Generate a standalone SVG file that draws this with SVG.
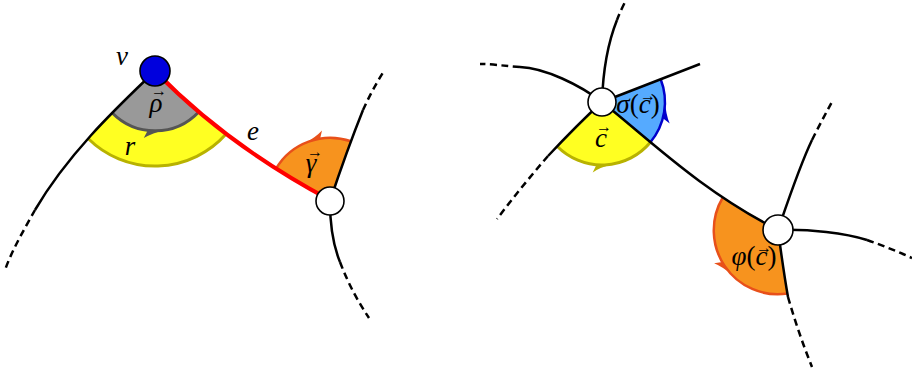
<svg xmlns="http://www.w3.org/2000/svg" width="912" height="373" viewBox="0 0 912 373">
<style>
.ln{fill:none;stroke:#000;stroke-width:2.5}
.dl{fill:none;stroke:#000;stroke-width:2.5;stroke-dasharray:7 4.5}
.red{fill:none;stroke:#ff0000;stroke-width:4}
.node{stroke:#000;stroke-width:1.6}
.lbl{font-style:italic;font-size:27px;fill:#000;text-anchor:middle}
.vec{font-style:normal;font-size:16px}
.up{font-style:normal}
.gray{fill:#999999}
.grayS{fill:none;stroke:#555555;stroke-width:3}
.grayF{fill:#555555}
.yel{fill:#ffff22}
.yelS{fill:none;stroke:#b8b200;stroke-width:3}
.yelF{fill:#b8b200}
.org{fill:#f7931e}
.orgS{fill:none;stroke:#e8501a;stroke-width:2.5}
.orgF{fill:#e8501a}
.blu{fill:#55aaff}
.bluS{fill:none;stroke:#0000cc;stroke-width:2.5}
.bluF{fill:#0000cc}
</style>
<g id="sectors">
  <g id="sector-r">
    <path class="yel" d="M112.1,112.8 L88.1,138.5 A95,95 0 0 0 226.1,134.1 L198.7,112 A60,60 0 0 1 112.1,112.8 Z"/>
    <path class="yelS" d="M88.1,138.5 A95,95 0 0 0 226.1,134.1"/>
  </g>
  <g id="sector-rho">
    <path class="gray" d="M155,71 L198.7,112 A60,60 0 0 1 112.1,112.8 Z"/>
    <path class="grayS" d="M198.7,112 A60,60 0 0 1 112.1,112.8"/>
    <path class="grayF" d="M164.4,130.3 Q152.8,133 143.8,138.1 L147.7,130.6 Z"/>
  </g>
  <g id="sector-gamma">
    <path class="org" d="M330,201 L276,168.6 A63,63 0 0 1 351,141.3 Z"/>
    <path class="orgS" d="M276,168.6 A63,63 0 0 1 351,141.3"/>
    <path class="orgF" d="M303.4,143.9 Q315.4,137.7 322,130.5 L320.1,138.8 Z"/>
  </g>
  <g id="sector-c">
    <path class="yel" d="M602,102 L650.4,142.2 A63,63 0 0 1 557.1,146.2 Z"/>
    <path class="yelS" d="M650.4,142.2 A63,63 0 0 1 557.1,146.2"/>
    <path class="yelF" d="M614,163.8 Q600.9,167 592.7,172.4 L596.5,164.8 Z"/>
  </g>
  <g id="sector-sigma">
    <path class="blu" d="M602,102 L660.7,79.2 A63,63 0 0 1 650.4,142.2 Z"/>
    <path class="bluS" d="M660.7,79.2 A63,63 0 0 1 650.4,142.2"/>
    <path class="bluF" d="M665,100.9 Q665.8,114.4 669.7,123.4 L662.9,118.3 Z"/>
  </g>
  <g id="sector-phi">
    <path class="org" d="M778,230 L787.7,293.5 A64,64 0 0 1 722.8,197.5 Z"/>
    <path class="orgS" d="M787.7,293.5 A64,64 0 0 1 722.8,197.5"/>
    <path class="orgF" d="M733.5,276 Q723.3,266.9 714.1,263.2 L722.6,262 Z"/>
  </g>
</g>
<g id="connectors">
  <path class="ln" d="M155,71 C125,100 70,150 35,210"/>
  <path class="dl" d="M35,210 C25,228 12,250 5,270"/>
  <path class="red" d="M155,71 C188,105 240,152 330,200"/>
  <path class="ln" d="M330,201 Q347,150 363,110"/>
  <path class="dl" d="M363,110 Q372,90 384,71"/>
  <path class="ln" d="M330,201 C330,225 333,245 340,262"/>
  <path class="dl" d="M340,262 C348,283 357,300 369,318"/>
  <path class="ln" d="M602,102 C603,70 607,45 617,20"/>
  <path class="dl" d="M617,20 Q620,12 625,2"/>
  <path class="ln" d="M602,102 C580,85 545,68 520,67"/>
  <path class="dl" d="M520,67 C505,66 492,64 480,64"/>
  <path class="ln" d="M602,102 L700,64"/>
  <path class="ln" d="M602,102 Q578,124 548,156"/>
  <path class="dl" d="M548,156 Q522,186 497,219"/>
  <path class="ln" d="M602,102 C650,140 700,190 778,230"/>
  <path class="ln" d="M778,230 C790,195 800,165 812,140"/>
  <path class="dl" d="M812,140 Q822,120 832,102"/>
  <path class="ln" d="M778,230 C810,229 845,233 867,240"/>
  <path class="dl" d="M867,240 Q890,248 912,258"/>
  <path class="ln" d="M778,230 C782,260 785,280 788,297"/>
  <path class="dl" d="M788,297 Q798,332 812,367"/>
</g>
<g id="node-v"><circle class="node" cx="155" cy="71" r="15" fill="#0000dd"/></g>
<g id="node-w"><circle class="node" cx="330" cy="201" r="14" fill="#fff"/></g>
<g id="node-a"><circle class="node" cx="602" cy="102" r="14" fill="#fff"/></g>
<g id="node-b"><circle class="node" cx="778" cy="230" r="15" fill="#fff"/></g>
<g id="labels" font-family="'Liberation Serif', 'Times New Roman', serif">
  <text class="lbl" x="122" y="65">v</text>
  <text class="lbl" x="156" y="112">ρ<tspan class="vec" x="159" y="96">→</tspan></text>
  <text class="lbl" x="130" y="155">r</text>
  <text class="lbl" x="253" y="140">e</text>
  <text class="lbl" x="311" y="172">γ<tspan class="vec" x="315" y="157">→</tspan></text>
  <text class="lbl" x="601" y="147">c<tspan class="vec" x="604" y="132">→</tspan></text>
  <text class="lbl" x="638" y="113">σ<tspan class="up">(</tspan>c<tspan class="up">)</tspan><tspan class="vec" x="648" y="101">→</tspan></text>
  <text class="lbl" x="754" y="265">φ<tspan class="up">(</tspan>c<tspan class="up">)</tspan><tspan class="vec" x="764" y="253">→</tspan></text>
</g>
</svg>
